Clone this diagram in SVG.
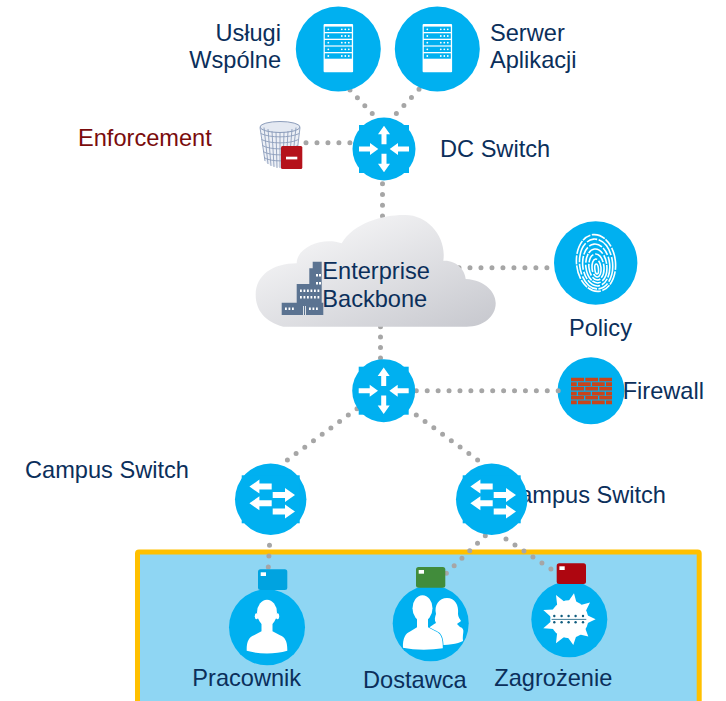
<svg xmlns="http://www.w3.org/2000/svg" xmlns:xlink="http://www.w3.org/1999/xlink" width="726" height="701" viewBox="0 0 726 701">
<style>
text{font-family:"Liberation Sans",Arial,sans-serif;font-size:23.6px;fill:#0B2F5B}
.c{fill:#00B0F0}
.w{fill:#fff}
.dots line{stroke:#A6A6A6;stroke-width:5;stroke-linecap:round;stroke-dasharray:0 1;fill:none}
.fp{fill:none;stroke:#fff;stroke-width:1.6}
.mesh{fill:none;stroke:#8C9DBB;stroke-width:.9}
.bw{fill:#fff}
</style>
<defs>
<linearGradient id="cg" x1="0.1" y1="0.1" x2="0.9" y2="1">
<stop offset="0" stop-color="#F8F8F9"/><stop offset="1" stop-color="#C9CAD0"/>
</linearGradient>
<g id="router">
<circle r="31.5" class="c"/><rect x="-25" y="-24" width="50" height="48" class="c"/>
<path class="w" d="M0-23.3L6-14.7H2.5V-4.7H-2.5V-14.7H-6ZM0 23.3L6 14.7H2.5V4.7H-2.5V14.7H-6ZM5.7 0L14-6V-2.5H25V2.5H14V6ZM-5.7 0L-14-6V-2.5H-25V2.5H-14V6Z"/>
</g>
<g id="campus">
<circle r="35.7" class="c"/><rect x="-29" y="-24" width="58" height="48" class="c"/>
<path id="sl" class="w" d="M-21.3-12.7L-11.3-19.7V-15.7H1V-9.7H-11.3V-5.7ZM-21.3 4L-11.3-3V1H1V7H-11.3V11ZM24.3-4.3L14.3-11.3V-7.3H2V-1.3H14.3V2.7ZM24.3 12.3L14.3 5.3V9.3H2V15.3H14.3V19.3Z"/>
</g>
<g id="srow">
<rect x="-13.5" width="27" height="5.4" class="c"/>
<circle cx="-10" cy="2.7" r=".9" class="w"/><circle cx="3.5" cy="2.7" r=".9" class="w"/><circle cx="7" cy="2.7" r=".9" class="w"/><circle cx="10.5" cy="2.7" r=".9" class="w"/>
</g>
<g id="server">
<circle r="42.5" class="c"/>
<rect x="-14.7" y="-25" width="29.5" height="48.3" rx="1" class="w"/>
<use href="#srow" y="-22.4"/><use href="#srow" y="-15.7"/><use href="#srow" y="-9"/><use href="#srow" y="-2.4"/><use href="#srow" y="4.3"/>
</g>
<g id="tagmark"><rect x="2.7" y="3" width="5.3" height="3.7" fill="#fff"/></g>
<g id="person">
<ellipse cx="0" cy="-14.5" rx="10" ry="13"/>
<path d="M-20.3 23.5C-20.5 14-18 10-13 8L-5.5 4V-6H5.5V4L13 8C18 10 20.5 14 20.3 23.5C8 27-8 27-20.3 23.5Z"/>
<ellipse cx="-10.5" cy="-11" rx="1.7" ry="3"/><ellipse cx="10.5" cy="-11" rx="1.7" ry="3"/>
</g>
</defs>

<rect id="zone" x="137.5" y="552" width="561.7" height="170" rx="1.5" fill="#8FD6F3" stroke="#FFC000" stroke-width="5"/>

<g id="node-firewall">
<circle cx="591" cy="390.7" r="33.5" class="c"/>
<path fill="#C8441B" d="M571 377.7h13v3.6h-13zM585.300 377.700h12.700v3.600h-12.700zM599.300 377.700h12.700v3.600h-12.700zM571 382.300h5.700v3.600h-5.700zM578 382.300h12.700v3.600h-12.700zM592 382.300h12.700v3.600h-12.700zM606 382.300h6v3.600h-6zM571 386.800h13v3.600h-13zM585.300 386.800h12.700v3.600h-12.700zM599.300 386.800h12.700v3.600h-12.700zM571 391.800h5.700v3.600h-5.700zM578 391.800h12.700v3.600h-12.700zM592 391.800h12.700v3.600h-12.700zM606 391.800h6v3.600h-6zM571 396h13v3.600h-13zM585.300 396h12.700v3.600h-12.700zM599.300 396h12.700v3.600h-12.700zM571 400.600h5.700v3.600h-5.700zM578 400.600h12.700v3.600h-12.700zM592 400.600h12.700v3.600h-12.700zM606 400.600h6v3.600h-6z"/>
<text x="622.700" y="399">Firewall</text>
</g>

<g id="connectors" class="dots">
<line x1="350" y1="90" x2="372.300" y2="113.700" pathLength="3.01"/>
<line x1="419" y1="89.300" x2="396.300" y2="113.700" pathLength="3.01"/>
<line x1="306" y1="142.700" x2="350" y2="142.700" pathLength="4.01"/>
<line x1="382.500" y1="183.700" x2="382.500" y2="216" pathLength="3.01"/>
<line x1="459" y1="267.700" x2="547" y2="267.700" pathLength="8.01"/>
<line x1="380.500" y1="326.700" x2="380.500" y2="358" pathLength="3.01"/>
<line x1="416.300" y1="390.700" x2="558.300" y2="390.700" pathLength="13.01"/>
<line x1="357" y1="408.700" x2="287.300" y2="460" pathLength="8.01"/>
<line x1="416.300" y1="415" x2="477.700" y2="460" pathLength="7.01"/>
<line x1="269.500" y1="545.300" x2="268.300" y2="567" pathLength="2.01"/>
<line x1="485.300" y1="535.700" x2="446.300" y2="573.300" pathLength="5.01"/>
<line x1="506" y1="539" x2="551" y2="569" pathLength="5.01"/>
</g>

<g id="node-uslugi">
<use href="#server" x="338.300" y="49"/>
<text x="281" y="40.700" text-anchor="end">Usługi</text>
<text x="281" y="67.700" text-anchor="end">Wspólne</text>
</g>
<g id="node-serwer">
<use href="#server" x="437.300" y="49"/>
<text x="490" y="40.700">Serwer</text>
<text x="490" y="67.700">Aplikacji</text>
</g>
<g id="node-enforcement">
<text x="78" y="146" style="fill:#7A0C0C">Enforcement</text>
<path d="M260 127.500L265 161C270 169 292 169 296 161L300 127.500Z" fill="#EDF0F6"/>
<ellipse cx="280" cy="127" rx="20" ry="5.500" fill="#E4E9F2" stroke="#8C9DBB"/>
<path class="mesh" d="M260.700 133.500C270 138 290 138 299.300 133.500M261.500 139.500C270 144 290 144 298.500 139.500M262.300 145.500C270 150 290 150 297.700 145.500M263 151.500C270 156 290 156 297 151.500M264 157.500C270 162 290 162 296 157.500M264 127.500L268 164M268 129L271 166M272 131L274 167M276 132L277 168M280 132V168M284 132L283 168M288 131L286 167M292 129L289 166M296 127.500L292 164M260 127.500L265 161M300 127.500L296 161"/>
<rect x="281" y="146" width="21.300" height="23" rx="1.500" fill="#B5121B"/>
<rect x="286" y="156.700" width="11.300" height="2.700" fill="#fff"/>
</g>
<g id="node-dc-switch">
<use href="#router" x="384" y="149"/>
<text x="440" y="157">DC Switch</text>
</g>
<g id="node-backbone">
<path fill="url(#cg)" d="M283.300 326.700C265 322 255.700 310 255.700 295C255.700 275 273 263.300 296.700 263.300C296.700 246.700 323.300 236.700 341.700 243.300C353.300 223 383.300 215 403.300 215C427 213.500 447 236.700 443.300 260.700C456.700 260 465 270 465.700 279C486 280 495.700 293 495.700 303.300C495.700 316.700 483.300 326.700 466.700 326.700Z"/>
<path fill="#5B7391" d="M312.700 261.700H321.700V284H321.700V302.700H323.300V315H305V315H303V315H281.700V302.700H296.700V284H309.300V268.300H312.700Z"/>
<path class="bw" d="M316 274h2v2.500h-2zM319 274h2v2.500h-2zM316 282h2v2.500h-2zM319 282h2v2.500h-2zM300 289.500h1.800v2.500h-1.800zM303.500 289.500h1.800v2.500h-1.800zM307 289.500h1.800v2.500h-1.800zM310.500 289.500h1.800v2.500h-1.800zM314 289.500h1.800v2.500h-1.800zM317.500 289.500h1.800v2.500h-1.800zM300 296h1.800v2.500h-1.800zM303.500 296h1.800v2.500h-1.800zM307 296h1.800v2.500h-1.800zM310.500 296h1.800v2.500h-1.800zM314 296h1.800v2.500h-1.800zM317.500 296h1.800v2.500h-1.800zM285 307.500h1.800v2.500h-1.800zM288.500 307.500h1.800v2.500h-1.800zM292 307.500h1.800v2.500h-1.800zM309 307.500h1.800v2.500h-1.800zM312.500 307.500h1.800v2.500h-1.800zM316 307.500h1.800v2.500h-1.800zM303 306h.8v9h-.8zM305 306h.8v9h-.8z"/>
<text x="322.300" y="279">Enterprise</text>
<text x="322.300" y="306.700">Backbone</text>
</g>
<g id="node-policy">
<circle cx="595.700" cy="263" r="41.700" class="c"/>
<g class="fp" transform="rotate(-6 596 263)">
<ellipse cx="596" cy="263" rx="19.500" ry="28.500" stroke-dasharray="9 1.500 14 1"/>
<ellipse cx="596" cy="264" rx="16.500" ry="25" stroke-dasharray="20 2 11 1.500"/>
<ellipse cx="596" cy="265" rx="13.500" ry="21" stroke-dasharray="14 1.500 8 2"/>
<ellipse cx="596" cy="266" rx="10.500" ry="17" stroke-dasharray="17 2 9 1"/>
<ellipse cx="596" cy="267" rx="7.500" ry="13" stroke-dasharray="12 1.500 9 2"/>
<ellipse cx="596" cy="268" rx="4.500" ry="9" stroke-dasharray="16 2"/>
<ellipse cx="596" cy="269" rx="1.800" ry="5"/>
</g>
<text x="569" y="336">Policy</text>
</g>
<g id="node-core-switch"><use href="#router" x="383.700" y="390.700"/></g>
<g id="node-campus-left">
<use href="#campus" x="270.700" y="499.300"/>
<text x="25" y="478">Campus Switch</text>
</g>
<g id="node-campus-right">
<text x="666" y="503" text-anchor="end">Campus Switch</text>
<use href="#campus" x="491.700" y="499.300"/>
</g>
<g id="node-pracownik">
<circle cx="267" cy="627.300" r="38" class="c"/>
<use href="#person" x="267" y="627.300" fill="#fff"/>
<rect x="258" y="569.300" width="29.300" height="20.700" rx="2.500" fill="#00A3E0"/>
<use href="#tagmark" x="258" y="569.300"/>
<text x="192.300" y="685.700">Pracownik</text>
</g>
<g id="node-dostawca">
<circle cx="430.700" cy="623.300" r="38" class="c"/>
<path fill="#fff" d="M424 645L426 634C427 628 431 626 436 623C434 620 435 617 436 614C434 605 439 598 447 598C455 598 459 605 458 614C458 617 460 619 461 621C460 622 458 623 457 624L460 627C466 629 462 633 463 641C456 645 440 646 424 645Z"/>
<g transform="translate(422.500 623.300)" fill="#fff" stroke="#00B0F0" stroke-width="1.500" paint-order="stroke">
<path d="M-19.500 24.500C-20 15-17 10-12 8L-5.500 4V-6H5.500V4L13 8C18 10 20.500 14 20.300 25C8 27-8 27-19.500 24.500Z"/>
<ellipse cx="0" cy="-15" rx="10" ry="13" stroke="none"/>
</g>
<rect x="416" y="567" width="29.300" height="20.700" rx="2.500" fill="#418C3B"/>
<use href="#tagmark" x="416" y="567"/>
<text x="363" y="687.700">Dostawca</text>
</g>
<g id="node-zagrozenie">
<circle cx="569.300" cy="619.300" r="38" class="c"/>
<g transform="translate(569.300 619.300)">
<circle r="19" class="w"/>
<path class="w" d="M-26-9.300L-15.700-9.900L-18.300-2.300ZM-13.300-24.300L-5.100-17.700L-12.100-13.900ZM4.700-26L7.100-17L-.7-18.400ZM20.700-16.700L16.500-8.200L11.500-14.400ZM26.300 0L18 4L18-4ZM19 17.300L10.600 15.100L16 9.100ZM4 25.700L-1.200 18.400L6.800 17.200ZM-13.300 24L-12.200 13.900L-5.200 17.700ZM-26 9L-18.300 2.100L-15.700 9.700Z"/>
<g fill="#0F5C7E">
<circle cx="-15" cy="-3.300" r="1.200"/><circle cx="-7.700" cy="-3.300" r="1.200"/><circle cx="-.7" cy="-3.300" r="1.200"/><circle cx="6.300" cy="-3.300" r="1.200"/><circle cx="13.700" cy="-3.300" r="1.200"/>
<circle cx="-15" cy="3" r="1.200"/><circle cx="-7.700" cy="3" r="1.200"/><circle cx="-.7" cy="3" r="1.200"/><circle cx="6.300" cy="3" r="1.200"/><circle cx="13.700" cy="3" r="1.200"/>
<rect x="-17.700" y="-.4" width="34.700" height=".8"/>
</g>
</g>
<rect x="556.700" y="563.300" width="29.300" height="20.700" rx="2.500" fill="#AE0610"/>
<use href="#tagmark" x="556.700" y="563.300"/>
<text x="494.300" y="685.700">Zagrożenie</text>
</g>
</svg>
